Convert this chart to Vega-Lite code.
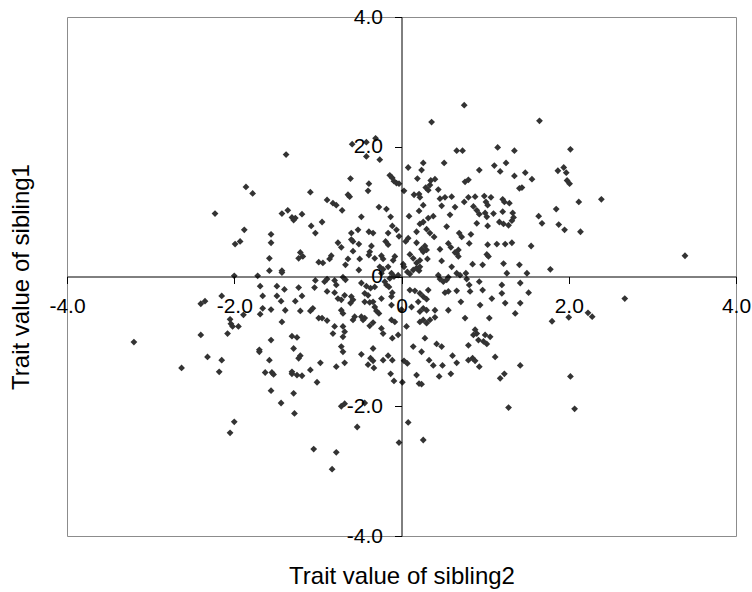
{
  "$schema": "https://vega.github.io/schema/vega-lite/v6.json",
  "autosize": {"type": "none"},
  "padding": {"left": 67, "top": 17, "right": 16, "bottom": 56},
  "width": 669,
  "height": 519,
  "background": "white",
  "config": {"view": {"stroke": "#8c8c8c", "strokeWidth": 1}},
  "data": {"values": [
{"s2":-1.38,"s1":1.88},{"s2":-1.86,"s1":1.38},{"s2":-1.78,"s1":1.28},{"s2":-1.09,"s1":1.30},{"s2":-2.23,"s1":0.97},{"s2":-1.43,"s1":0.97},{"s2":-1.36,"s1":1.02},{"s2":-1.31,"s1":0.91},{"s2":-1.27,"s1":0.90},{"s2":-1.19,"s1":0.96},
{"s2":0.75,"s1":2.64},{"s2":0.36,"s1":2.38},{"s2":-0.59,"s1":2.04},{"s2":-0.42,"s1":2.07},{"s2":-0.31,"s1":2.13},{"s2":-0.42,"s1":1.85},{"s2":-0.26,"s1":1.80},{"s2":0.66,"s1":1.94},{"s2":0.73,"s1":1.94},{"s2":1.15,"s1":1.99},{"s2":1.35,"s1":1.94},
{"s2":0.08,"s1":1.68},{"s2":0.26,"s1":1.75},{"s2":0.24,"s1":1.64},{"s2":0.51,"s1":1.75},{"s2":0.93,"s1":1.64},{"s2":1.11,"s1":1.71},{"s2":1.18,"s1":1.62},{"s2":1.25,"s1":1.75},{"s2":1.35,"s1":1.55},
{"s2":-0.61,"s1":1.51},{"s2":-0.39,"s1":1.43},{"s2":-0.40,"s1":1.32},{"s2":-0.14,"s1":1.56},{"s2":-0.11,"s1":1.52},{"s2":-0.09,"s1":1.47},{"s2":-0.06,"s1":1.44},{"s2":-0.03,"s1":1.43},{"s2":0.03,"s1":1.32},{"s2":0.19,"s1":1.51},
{"s2":0.35,"s1":1.48},{"s2":0.40,"s1":1.50},{"s2":0.34,"s1":1.41},{"s2":0.29,"s1":1.37},{"s2":0.32,"s1":1.33},{"s2":0.44,"s1":1.34},{"s2":0.76,"s1":1.46},{"s2":0.80,"s1":1.49},{"s2":0.15,"s1":1.26},{"s2":0.21,"s1":1.27},
{"s2":0.22,"s1":1.22},{"s2":0.26,"s1":1.10},{"s2":0.46,"s1":1.20},{"s2":0.52,"s1":1.22},{"s2":0.60,"s1":1.23},{"s2":0.48,"s1":1.09},{"s2":0.64,"s1":1.07},{"s2":0.75,"s1":1.15},{"s2":0.80,"s1":1.22},{"s2":0.88,"s1":1.23},
{"s2":0.99,"s1":1.24},{"s2":1.07,"s1":1.22},{"s2":1.01,"s1":1.15},{"s2":1.03,"s1":1.10},{"s2":0.86,"s1":1.08},{"s2":0.90,"s1":1.02},{"s2":1.21,"s1":1.19},{"s2":1.23,"s1":1.15},{"s2":1.29,"s1":1.13},{"s2":1.41,"s1":1.36},
{"s2":-0.89,"s1":1.18},{"s2":-0.82,"s1":1.13},{"s2":-0.78,"s1":1.10},{"s2":-0.71,"s1":1.02},{"s2":-0.64,"s1":1.26},{"s2":-0.62,"s1":1.23},{"s2":-0.27,"s1":1.07},{"s2":-0.18,"s1":1.04},{"s2":-0.48,"s1":0.92},{"s2":-0.13,"s1":0.92},
{"s2":0.09,"s1":0.93},{"s2":0.21,"s1":1.01},{"s2":0.32,"s1":0.90},{"s2":0.38,"s1":0.93},{"s2":0.58,"s1":0.95},{"s2":0.93,"s1":0.96},{"s2":1.00,"s1":0.98},{"s2":1.02,"s1":0.92},{"s2":1.10,"s1":0.97},{"s2":1.21,"s1":1.00},
{"s2":1.33,"s1":0.98},{"s2":1.34,"s1":0.91},
{"s2":1.65,"s1":2.40},{"s2":2.02,"s1":1.96},{"s2":1.48,"s1":1.60},{"s2":1.87,"s1":1.63},{"s2":1.94,"s1":1.68},{"s2":1.97,"s1":1.60},{"s2":1.56,"s1":1.50},{"s2":1.98,"s1":1.48},{"s2":2.01,"s1":1.43},{"s2":1.44,"s1":1.37},
{"s2":2.12,"s1":1.15},{"s2":2.39,"s1":1.19},{"s2":1.85,"s1":1.04},{"s2":1.64,"s1":0.93},
{"s2":-1.88,"s1":0.72},{"s2":-1.99,"s1":0.50},{"s2":-1.93,"s1":0.54},{"s2":-1.56,"s1":0.65},{"s2":-1.56,"s1":0.52},{"s2":-1.58,"s1":0.28},{"s2":-1.58,"s1":0.09},{"s2":-1.43,"s1":0.09},{"s2":-1.43,"s1":0.06},{"s2":-1.21,"s1":0.37},
{"s2":-1.18,"s1":0.31},{"s2":-1.23,"s1":0.28},{"s2":-1.08,"s1":0.78},{"s2":-1.03,"s1":0.67},{"s2":-0.99,"s1":0.22},{"s2":-1.29,"s1":0.87},{"s2":-2.00,"s1":0.01},{"s2":-1.72,"s1":0.01},{"s2":-1.03,"s1":-0.06},{"s2":-1.69,"s1":-0.15},
{"s2":-1.49,"s1":-0.15},{"s2":-1.40,"s1":-0.20},{"s2":-1.23,"s1":-0.17},{"s2":-1.04,"s1":-0.17},{"s2":-2.15,"s1":-0.30},{"s2":-1.66,"s1":-0.30},{"s2":-1.49,"s1":-0.30},{"s2":-1.44,"s1":-0.38},{"s2":-1.27,"s1":-0.38},{"s2":-1.19,"s1":-0.30},
{"s2":-2.40,"s1":-0.42},{"s2":-2.35,"s1":-0.38},{"s2":-1.66,"s1":-0.49},{"s2":-1.69,"s1":-0.58},{"s2":-1.56,"s1":-0.51},{"s2":-1.39,"s1":-0.52},{"s2":-1.21,"s1":-0.53},{"s2":-1.09,"s1":-0.53},{"s2":-1.06,"s1":-0.49},{"s2":-0.99,"s1":-0.64},
{"s2":-2.05,"s1":-0.66},{"s2":-2.04,"s1":-0.73},{"s2":-2.02,"s1":-0.77},{"s2":-1.95,"s1":-0.77},{"s2":-1.89,"s1":-0.59},{"s2":-1.43,"s1":-0.70},{"s2":-2.40,"s1":-0.90},{"s2":-2.08,"s1":-0.88},{"s2":-3.20,"s1":-1.01},{"s2":-1.56,"s1":-0.98},
{"s2":-1.31,"s1":-0.92},{"s2":-1.25,"s1":-0.94},{"s2":-1.29,"s1":-1.11},{"s2":-1.70,"s1":-1.13},
{"s2":-0.95,"s1":0.84},{"s2":-0.52,"s1":0.72},{"s2":-0.60,"s1":0.67},{"s2":-0.39,"s1":0.69},{"s2":-0.34,"s1":0.67},{"s2":-0.11,"s1":0.78},{"s2":-0.16,"s1":0.67},{"s2":-0.06,"s1":0.72},{"s2":-0.03,"s1":0.62},{"s2":0.22,"s1":0.81},
{"s2":0.26,"s1":0.84},{"s2":0.18,"s1":0.69},{"s2":0.30,"s1":0.73},{"s2":0.34,"s1":0.67},{"s2":0.39,"s1":0.61},{"s2":0.54,"s1":0.77},{"s2":0.69,"s1":0.67},{"s2":0.72,"s1":0.61},{"s2":0.83,"s1":0.65},{"s2":0.90,"s1":0.82},
{"s2":1.03,"s1":0.78},{"s2":1.17,"s1":0.84},{"s2":1.22,"s1":0.81},{"s2":1.28,"s1":0.79},{"s2":1.32,"s1":0.86},{"s2":-0.76,"s1":0.52},{"s2":-0.72,"s1":0.45},{"s2":-0.60,"s1":0.57},{"s2":-0.58,"s1":0.54},{"s2":-0.51,"s1":0.50},
{"s2":-0.36,"s1":0.47},{"s2":-0.38,"s1":0.38},{"s2":-0.39,"s1":0.33},{"s2":-0.19,"s1":0.54},{"s2":-0.16,"s1":0.49},{"s2":-0.58,"s1":0.39},{"s2":0.05,"s1":0.54},{"s2":0.08,"s1":0.59},{"s2":0.18,"s1":0.52},{"s2":0.28,"s1":0.47},
{"s2":0.30,"s1":0.41},{"s2":0.24,"s1":0.42},{"s2":0.26,"s1":0.38},{"s2":0.46,"s1":0.42},{"s2":0.56,"s1":0.51},{"s2":0.59,"s1":0.45},{"s2":0.68,"s1":0.41},{"s2":0.66,"s1":0.36},{"s2":0.81,"s1":0.51},{"s2":1.03,"s1":0.49},
{"s2":1.14,"s1":0.50},{"s2":1.24,"s1":0.50},{"s2":1.32,"s1":0.52},{"s2":-0.84,"s1":0.32},{"s2":-0.86,"s1":0.27},{"s2":-0.64,"s1":0.27},{"s2":-0.67,"s1":0.18},{"s2":-0.50,"s1":0.27},{"s2":-0.32,"s1":0.28},{"s2":-0.24,"s1":0.32},
{"s2":-0.22,"s1":0.27},{"s2":-0.08,"s1":0.31},{"s2":-0.10,"s1":0.25},{"s2":0.10,"s1":0.34},{"s2":0.14,"s1":0.28},{"s2":0.18,"s1":0.21},{"s2":0.22,"s1":0.25},{"s2":0.02,"s1":0.19},{"s2":0.03,"s1":0.15},{"s2":0.31,"s1":0.27},
{"s2":0.48,"s1":0.24},{"s2":0.64,"s1":0.37},{"s2":0.68,"s1":0.31},{"s2":0.85,"s1":0.19},{"s2":1.02,"s1":0.34},{"s2":1.04,"s1":0.31},{"s2":0.97,"s1":0.18},{"s2":1.22,"s1":0.20},{"s2":1.41,"s1":0.18},{"s2":-0.94,"s1":0.21},
{"s2":-0.51,"s1":0.10},{"s2":-0.26,"s1":0.15},{"s2":-0.22,"s1":0.11},{"s2":-0.24,"s1":0.05},{"s2":-0.16,"s1":0.15},{"s2":-0.12,"s1":0.05},{"s2":-0.09,"s1":0.00},{"s2":-0.14,"s1":-0.03},{"s2":-0.04,"s1":0.02},{"s2":0.07,"s1":0.07},
{"s2":0.10,"s1":0.04},{"s2":0.14,"s1":0.10},{"s2":0.18,"s1":0.13},{"s2":0.21,"s1":0.09},{"s2":0.22,"s1":0.15},{"s2":0.60,"s1":0.15},{"s2":0.66,"s1":0.05},{"s2":0.70,"s1":0.02},{"s2":0.77,"s1":0.05},{"s2":0.78,"s1":-0.04},
{"s2":0.93,"s1":-0.08},{"s2":1.26,"s1":0.05},{"s2":0.44,"s1":0.02},{"s2":0.46,"s1":-0.04},{"s2":0.50,"s1":-0.08},{"s2":0.54,"s1":-0.05},{"s2":0.56,"s1":-0.01},{"s2":-0.89,"s1":-0.04},{"s2":-0.92,"s1":-0.08},{"s2":-0.80,"s1":-0.06},
{"s2":-0.78,"s1":-0.13},{"s2":-0.70,"s1":-0.01},{"s2":-0.67,"s1":-0.05},{"s2":-0.48,"s1":-0.10},{"s2":-0.42,"s1":-0.15},{"s2":-0.37,"s1":-0.18},{"s2":-0.32,"s1":-0.16},{"s2":-0.20,"s1":-0.08},{"s2":-0.18,"s1":-0.13},{"s2":-0.15,"s1":-0.16},
{"s2":-0.11,"s1":-0.25},{"s2":-0.12,"s1":-0.31},{"s2":0.10,"s1":-0.21},{"s2":0.16,"s1":-0.22},{"s2":0.22,"s1":-0.26},{"s2":0.26,"s1":-0.31},{"s2":0.30,"s1":-0.35},{"s2":0.20,"s1":-0.39},{"s2":0.32,"s1":-0.21},{"s2":0.52,"s1":-0.25},
{"s2":0.56,"s1":-0.23},{"s2":0.66,"s1":-0.22},{"s2":0.81,"s1":-0.13},{"s2":0.82,"s1":-0.23},{"s2":0.97,"s1":-0.21},{"s2":1.20,"s1":-0.13},{"s2":1.20,"s1":-0.26},{"s2":1.08,"s1":-0.34},{"s2":0.71,"s1":-0.39},{"s2":-0.80,"s1":-0.25},
{"s2":-0.76,"s1":-0.34},{"s2":-0.72,"s1":-0.36},{"s2":-0.68,"s1":-0.29},{"s2":-0.60,"s1":-0.31},{"s2":-0.58,"s1":-0.36},{"s2":-0.61,"s1":-0.41},{"s2":-0.44,"s1":-0.26},{"s2":-0.40,"s1":-0.29},{"s2":-0.44,"s1":-0.39},{"s2":-0.38,"s1":-0.40},
{"s2":-0.34,"s1":-0.39},{"s2":-0.24,"s1":-0.34},{"s2":-0.89,"s1":-0.23},{"s2":-0.32,"s1":-0.47},{"s2":-0.30,"s1":-0.53},{"s2":-0.27,"s1":-0.57},{"s2":-0.12,"s1":-0.44},{"s2":0.00,"s1":-0.51},{"s2":0.12,"s1":-0.47},{"s2":0.22,"s1":-0.54},
{"s2":0.26,"s1":-0.49},{"s2":0.30,"s1":-0.52},{"s2":0.40,"s1":-0.52},{"s2":0.56,"s1":-0.52},{"s2":0.94,"s1":-0.44},{"s2":1.24,"s1":-0.41},{"s2":-0.72,"s1":-0.52},{"s2":-0.70,"s1":-0.57},{"s2":-0.44,"s1":-0.64},{"s2":-0.46,"s1":-0.67},
{"s2":-0.48,"s1":-0.62},{"s2":-0.58,"s1":-0.67},{"s2":-0.56,"s1":-0.62},{"s2":-0.89,"s1":-0.68},{"s2":-0.95,"s1":-0.64},{"s2":-0.34,"s1":-0.71},{"s2":-0.38,"s1":-0.76},{"s2":-0.12,"s1":-0.67},{"s2":-0.08,"s1":-0.70},{"s2":0.22,"s1":-0.70},
{"s2":0.26,"s1":-0.67},{"s2":0.30,"s1":-0.72},{"s2":0.34,"s1":-0.67},{"s2":0.40,"s1":-0.63},{"s2":0.76,"s1":-0.64},{"s2":1.05,"s1":-0.64},{"s2":1.36,"s1":-0.57},{"s2":-0.80,"s1":-0.77},{"s2":-0.70,"s1":-0.77},{"s2":-0.68,"s1":-0.85},
{"s2":-0.82,"s1":-0.88},{"s2":-0.24,"s1":-0.80},{"s2":-0.22,"s1":-0.88},{"s2":0.06,"s1":-0.77},{"s2":-0.04,"s1":-0.90},{"s2":-0.11,"s1":-0.95},{"s2":-0.70,"s1":-0.93},{"s2":-0.72,"s1":-1.08},{"s2":-0.34,"s1":-1.11},{"s2":0.28,"s1":-0.95},
{"s2":0.42,"s1":-1.04},{"s2":0.48,"s1":-1.08},{"s2":0.14,"s1":-1.08},{"s2":0.88,"s1":-0.82},{"s2":0.90,"s1":-0.88},{"s2":0.86,"s1":-0.90},{"s2":0.92,"s1":-0.98},{"s2":0.98,"s1":-1.00},{"s2":1.02,"s1":-1.04},{"s2":0.80,"s1":-1.06},
{"s2":1.00,"s1":-0.90},{"s2":1.06,"s1":-0.93},
{"s2":1.68,"s1":0.82},{"s2":1.88,"s1":0.80},{"s2":1.95,"s1":0.72},{"s2":2.14,"s1":0.69},{"s2":1.55,"s1":0.47},{"s2":1.78,"s1":0.11},{"s2":1.50,"s1":0.05},{"s2":3.39,"s1":0.32},{"s2":1.42,"s1":-0.10},{"s2":1.52,"s1":-0.25},
{"s2":2.67,"s1":-0.34},{"s2":2.23,"s1":-0.56},{"s2":2.28,"s1":-0.62},{"s2":2.00,"s1":-0.63},{"s2":1.80,"s1":-0.69},{"s2":1.42,"s1":-0.41},
{"s2":-2.63,"s1":-1.41},{"s2":-2.32,"s1":-1.24},{"s2":-2.15,"s1":-1.29},{"s2":-2.18,"s1":-1.47},{"s2":-1.70,"s1":-1.16},{"s2":-1.58,"s1":-1.29},{"s2":-1.63,"s1":-1.48},{"s2":-1.55,"s1":-1.48},{"s2":-1.53,"s1":-1.51},{"s2":-1.21,"s1":-1.22},
{"s2":-1.23,"s1":-1.26},{"s2":-1.31,"s1":-1.47},{"s2":-1.31,"s1":-1.50},{"s2":-1.25,"s1":-1.52},{"s2":-1.19,"s1":-1.53},{"s2":-1.09,"s1":-1.44},{"s2":-0.97,"s1":-1.33},{"s2":-1.01,"s1":-1.63},{"s2":-1.56,"s1":-1.76},{"s2":-1.29,"s1":-1.80},
{"s2":-1.44,"s1":-1.95},{"s2":-1.28,"s1":-2.11},{"s2":-0.78,"s1":-1.39},{"s2":-0.68,"s1":-1.33},{"s2":-0.70,"s1":-1.16},{"s2":-0.48,"s1":-1.20},{"s2":-0.40,"s1":-1.36},{"s2":-0.37,"s1":-1.26},{"s2":-0.34,"s1":-1.30},{"s2":-0.33,"s1":-1.41},
{"s2":-0.22,"s1":-1.29},{"s2":-0.16,"s1":-1.22},{"s2":-0.11,"s1":-1.29},{"s2":-0.13,"s1":-1.50},{"s2":-0.09,"s1":-1.61},{"s2":0.01,"s1":-1.63},{"s2":0.03,"s1":-1.30},{"s2":0.07,"s1":-1.34},{"s2":0.18,"s1":-1.52},{"s2":0.21,"s1":-1.65},
{"s2":-0.72,"s1":-2.00},{"s2":-0.68,"s1":-1.96},{"s2":-0.44,"s1":-1.95},{"s2":-0.53,"s1":-2.32},{"s2":-2.00,"s1":-2.24},{"s2":-2.05,"s1":-2.41},{"s2":-1.05,"s1":-2.66},{"s2":-0.78,"s1":-2.71},{"s2":-0.83,"s1":-2.97},{"s2":0.08,"s1":-2.25},
{"s2":-0.03,"s1":-2.56},
{"s2":0.24,"s1":-1.16},{"s2":0.33,"s1":-1.29},{"s2":0.38,"s1":-1.37},{"s2":0.49,"s1":-1.37},{"s2":0.61,"s1":-1.22},{"s2":0.66,"s1":-1.33},{"s2":0.45,"s1":-1.54},{"s2":0.59,"s1":-1.50},{"s2":0.80,"s1":-1.29},{"s2":0.85,"s1":-1.26},
{"s2":0.88,"s1":-1.30},{"s2":0.93,"s1":-1.39},{"s2":1.12,"s1":-1.24},{"s2":1.42,"s1":-1.37},{"s2":1.18,"s1":-1.57},{"s2":1.23,"s1":-1.50},{"s2":0.24,"s1":-1.66},{"s2":2.02,"s1":-1.54},{"s2":1.28,"s1":-2.02},{"s2":2.07,"s1":-2.04},
{"s2":0.26,"s1":-2.52}
  ]},
  "mark": {"type": "point", "shape": "diamond", "filled": true, "size": 46, "color": "#333333", "opacity": 1},
  "encoding": {
    "x": {
      "field": "s2", "type": "quantitative",
      "scale": {"domain": [-4, 4], "nice": false, "zero": false},
      "axis": {
        "orient": "bottom", "offset": -259.5, "zindex": 1,
        "values": [-4, -2, 0, 2, 4], "grid": false,
        "domainColor": "#000000", "tickColor": "#000000", "tickSize": 7,
        "labelFont": "Liberation Sans", "labelFontSize": 21, "labelColor": "#000000", "labelPadding": 12,
        "labelFlush": false, "labelOverlap": false, "labelBound": false, "labelAngle": 0,
        "labelExpr": "datum.value == 0 ? '0' : (datum.value < 0 ? '-' + format(-datum.value, '.1f') : format(datum.value, '.1f'))",
        "title": "Trait value of sibling2",
        "titleFont": "Liberation Sans", "titleFontSize": 24, "titleFontWeight": "normal", "titleColor": "#000000",
        "titleY": 300, "titleBaseline": "middle"
      }
    },
    "y": {
      "field": "s1", "type": "quantitative",
      "scale": {"domain": [-4, 4], "nice": false, "zero": false},
      "axis": {
        "orient": "left", "offset": -334.5, "zindex": 1,
        "values": [-4, -2, 0, 2, 4], "grid": false,
        "domainColor": "#000000", "tickColor": "#000000", "tickSize": 7,
        "labelFont": "Liberation Sans", "labelFontSize": 21, "labelColor": "#000000", "labelPadding": 12,
        "labelFlush": false, "labelOverlap": false, "labelBound": false,
        "labelExpr": "datum.value == 0 ? '0' : (datum.value < 0 ? '-' + format(-datum.value, '.1f') : format(datum.value, '.1f'))",
        "title": "Trait value of sibling1",
        "titleFont": "Liberation Sans", "titleFontSize": 24, "titleFontWeight": "normal", "titleColor": "#000000",
        "titleX": -380, "titleBaseline": "middle"
      }
    }
  }
}
